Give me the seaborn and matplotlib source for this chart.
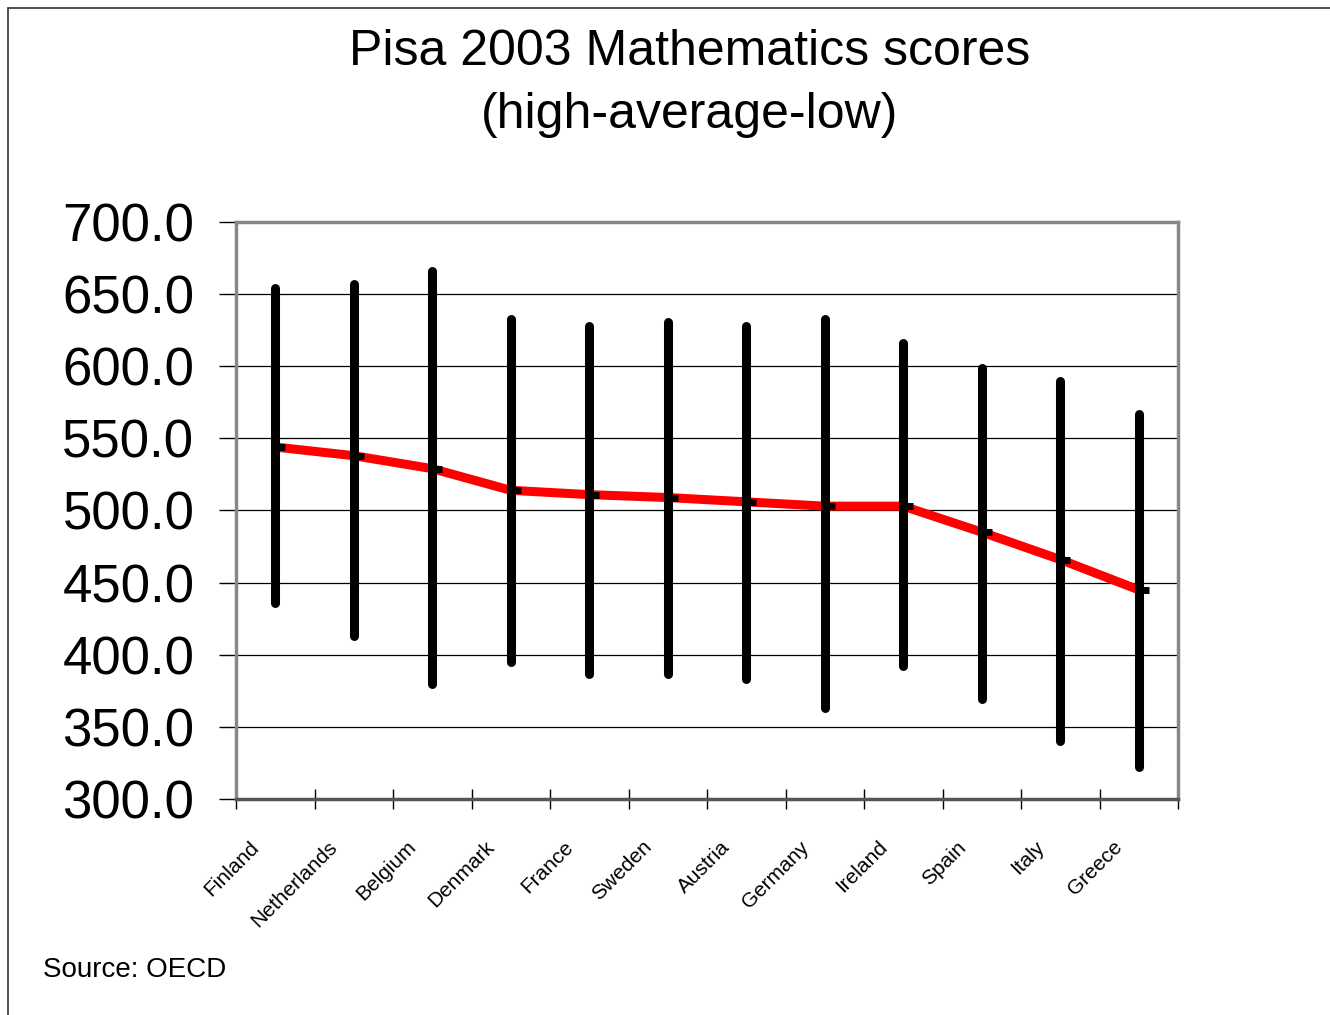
import numpy as np
import pandas as pd
import matplotlib
matplotlib.use("Agg")
import matplotlib.pyplot as plt
import matplotlib.transforms as mtransforms
from matplotlib.path import Path
from matplotlib.lines import Line2D
import seaborn as sns

countries = ["Finland", "Netherlands", "Belgium", "Denmark", "France", "Sweden",
             "Austria", "Germany", "Ireland", "Spain", "Italy", "Greece"]
high = [654, 657, 666, 633, 628, 631, 628, 633, 616, 599, 590, 567]
low = [436, 413, 380, 395, 387, 387, 383, 363, 392, 369, 340, 322]
average = [544, 538, 529, 514, 511, 509, 506, 503, 503, 485, 466, 445]
y_ticks = [300, 350, 400, 450, 500, 550, 600, 650, 700]

sns.set_theme(style="white")
plt.rcParams['font.family'] = ['Liberation Sans', 'DejaVu Sans']
plt.rcParams['text.color'] = 'black'
plt.rcParams['xtick.color'] = 'black'
plt.rcParams['ytick.color'] = 'black'
plt.rcParams['xtick.labelcolor'] = 'black'
plt.rcParams['ytick.labelcolor'] = 'black'

df = pd.DataFrame({"country": countries, "high": high, "low": low, "average": average})
df["pos"] = np.arange(len(df))

fig = plt.figure(figsize=(13.3, 10.15), dpi=100)
ax = fig.add_axes([236/1330, 1-799/1015, (1178-236)/1330, (799-222)/1015])

# gridlines
for v in y_ticks[1:-1]:
    ax.axhline(v, color="black", lw=0.9, zorder=0)

# average red line
sns.lineplot(data=df, x="pos", y="average", color="#ff0000", lw=6.5, ax=ax,
             zorder=2, legend=False, solid_capstyle="butt")

# high-low bars
ax.vlines(df["pos"], df["low"], df["high"], colors="black", lw=6.5, zorder=3,
          capstyle="round")

# average tick marks to the right
tick_marker = Path([(0, 0), (1, 0)], [Path.MOVETO, Path.LINETO])
ax.plot(df["pos"], df["average"], ls="none", marker=tick_marker, ms=14,
        mec="black", mew=5, zorder=4)

ax.set_xlim(-0.5, len(df) - 0.5)
ax.set_ylim(300, 700)
ax.set_yticks(y_ticks)
ax.set_yticklabels([f"{v:.1f}" for v in y_ticks], fontsize=38, color="black")
ax.tick_params(axis="y", direction="out", length=12, width=1, color="black", pad=18, left=True)

# x ticks at category boundaries
ax.set_xticks(np.arange(-0.5, len(df), 1.0))
ax.set_xticklabels([])
ax.tick_params(axis="x", direction="inout", length=14, width=1, color="black", bottom=True)
ax.set_xlabel("")
ax.set_ylabel("")

offset = mtransforms.ScaledTranslation(-19/100, -45/100, fig.dpi_scale_trans)
label_tr = ax.get_xaxis_transform() + offset
for p, name in zip(df["pos"], df["country"]):
    ax.text(p, 0, name, rotation=45, rotation_mode="anchor", ha="right", va="center",
            fontsize=15, color="black", transform=label_tr, clip_on=False)

for side in ["top", "right", "left"]:
    ax.spines[side].set_color("#888888")
    ax.spines[side].set_linewidth(2.5)
ax.spines["bottom"].set_color("#555555")
ax.spines["bottom"].set_linewidth(2.5)

fig.text(690/1330, 1-52/1015, "Pisa 2003 Mathematics scores", ha="center", va="center", fontsize=36, color="black")
fig.text(690/1330, 1-115/1015, "(high-average-low)", ha="center", va="center", fontsize=36, color="black")
fig.text(43/1330, 1-970/1015, "Source: OECD", ha="left", va="center", fontsize=20, color="black")

# outer border (top and left)
fig.add_artist(Line2D([8/1330, 8/1330], [0, 1-8/1015], color="#333333", lw=1.2, transform=fig.transFigure))
fig.add_artist(Line2D([8/1330, 1], [1-8/1015, 1-8/1015], color="#333333", lw=1.2, transform=fig.transFigure))

fig.savefig("out.png", dpi=100)
